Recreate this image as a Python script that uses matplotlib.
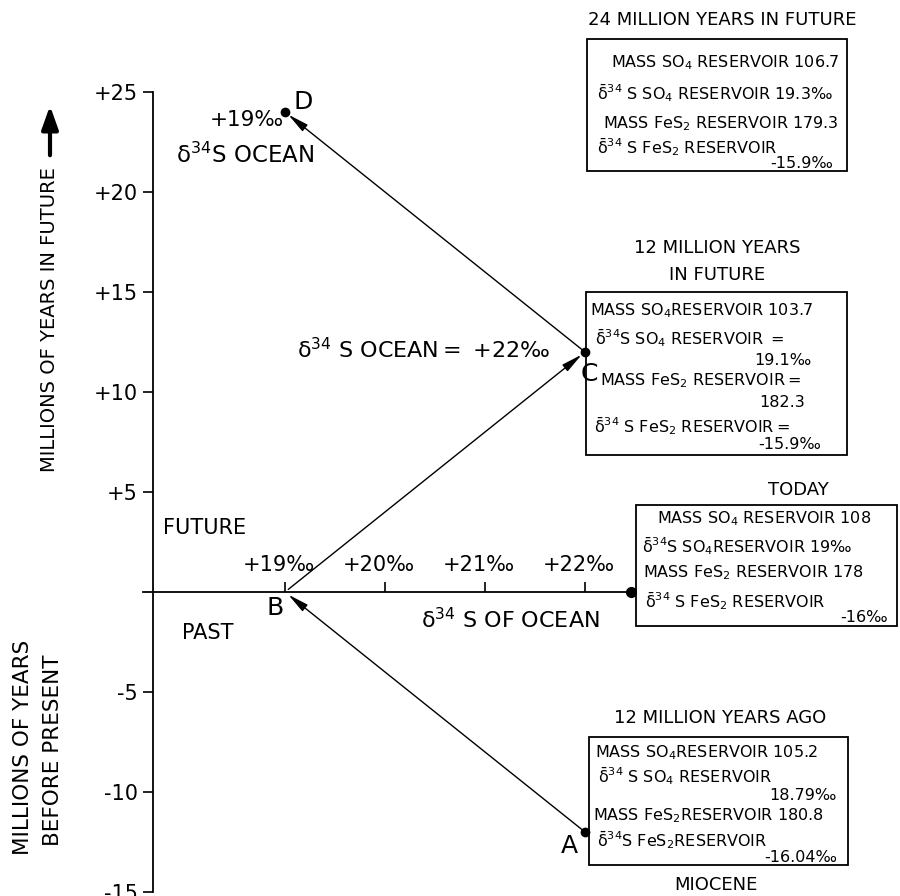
import matplotlib.pyplot as plt
from matplotlib.patches import Rectangle
from matplotlib.transforms import ScaledTranslation

# --- data ---
point_names = ['A', 'B', 'C', 'D']
ages = [-12, 0, 12, 24]              # million years (negative = past)
ocean_d34s = [22, 19, 22, 19]        # d34S of ocean, permil
mass_so4 = [105.2, 108, 103.7, 106.7]
d34s_so4 = [18.79, 19, 19.1, 19.3]
mass_fes2 = [180.8, 178, 182.3, 179.3]
d34s_fes2 = [-16.04, -16, -15.9, -15.9]

x_ticks = [19, 20, 21, 22]
y_ticks = [-15, -10, -5, 5, 10, 15, 20, 25]

W, H = 900, 896
D34 = r'$\mathrm{\delta}^{34}$'
DB = r'$\bar{\mathrm{\delta}}^{34}$'
BOX_FS = 11.5
TITLE_FS = 13


def px(x, y):
    # pixel position -> axes fraction
    return (x / W, 1 - y / H)


def txt(x, y, s, size=BOX_FS, ha='left', va='center', **kw):
    ax.text(*px(x, y), s, transform=ax.transAxes, fontsize=size,
            ha=ha, va=va, **kw)


def fmt(v):
    return f'{v:g}'


def box(x0, y0, x1, y1):
    ax.add_patch(Rectangle(px(x0, y1), (x1 - x0) / W, (y1 - y0) / H,
                           transform=ax.transAxes, fill=False, lw=1.3, ec='k'))


fig = plt.figure(figsize=(W / 100, H / 100), dpi=100)
ax = fig.add_axes([0, 0, 1, 1])
ax.set_xlim(16.15, 25.15)
ax.set_ylim(-15.2, 29.6)

# axes drawn as crossing lines
ax.spines['right'].set_visible(False)
ax.spines['bottom'].set_visible(False)
ax.spines['left'].set_position(('data', 17.68))
ax.spines['left'].set_bounds(-15, 25)
ax.spines['top'].set_position(('data', 0))
ax.spines['top'].set_bounds(17.58, 22.46)
for s in ('left', 'top'):
    ax.spines[s].set_linewidth(1.3)
ax.xaxis.set_ticks_position('top')
ax.yaxis.set_ticks_position('left')

ax.set_xticks(x_ticks)
ax.set_xticklabels([f'+{v}‰' for v in x_ticks])
ax.set_yticks(y_ticks)
ax.set_yticklabels([f'+{v}' if v > 0 else f'-{-v}' for v in y_ticks])
ax.tick_params(axis='x', direction='out', length=7, width=1.2, pad=5, labelsize=15)
ax.tick_params(axis='y', direction='out', length=7, width=1.2, pad=4, labelsize=15)
shift = ScaledTranslation(-6 / 100, 0, fig.dpi_scale_trans)
for lbl in ax.get_xticklabels():
    lbl.set_transform(lbl.get_transform() + shift)

# dot at the end of the ocean axis (today)
ax.plot(22.46, 0, 'o', color='k', ms=7, clip_on=False)

# trajectory points and arrows
for i in (0, 2, 3):
    ax.plot(ocean_d34s[i], ages[i], 'o', color='k', ms=6)
for i in range(len(ages) - 1):
    ax.annotate('', xy=(ocean_d34s[i + 1], ages[i + 1]),
                xytext=(ocean_d34s[i], ages[i]),
                arrowprops=dict(arrowstyle='-|>,head_length=0.9,head_width=0.18',
                                color='k', lw=1, shrinkA=3, shrinkB=3,
                                mutation_scale=14))

# letter offsets in image pixels (down = positive)
letter_off = {'A': (-16, 14), 'B': (-10, 16), 'C': (4, 22), 'D': (18, -10)}
for i, name in enumerate(point_names):
    dx, dy = letter_off[name]
    ax.annotate(name, (ocean_d34s[i], ages[i]), xytext=(dx, -dy),
                textcoords='offset pixels', fontsize=18, ha='center', va='center')

# axis titles
txt(50, 167, 'MILLIONS OF YEARS IN FUTURE', size=14, ha='center', va='top',
    rotation=90)
ax.annotate('', xy=px(50, 103), xytext=px(50, 158), xycoords='axes fraction',
            arrowprops=dict(arrowstyle='-|>,head_length=0.7,head_width=0.25',
                            color='k', lw=3, mutation_scale=20))
txt(23, 747, 'MILLIONS OF YEARS', size=15.5, ha='center', rotation=90)
txt(53, 750, 'BEFORE PRESENT', size=15.5, ha='center', rotation=90)

txt(205, 528, 'FUTURE', size=15, ha='center')
txt(208, 633, 'PAST', size=15, ha='center')
txt(510, 620, D34 + ' S OF OCEAN', size=16, ha='center')
txt(550, 350, D34 + ' S OCEAN$=$ +' + f'{fmt(ocean_d34s[2])}‰', size=16, ha='right')
txt(247, 120, f'+{fmt(ocean_d34s[3])}‰', size=15.5, ha='center')
txt(245, 155, D34 + 'S OCEAN', size=16.5, ha='center')

# 24 million years in future (D)
i = 3
txt(722, 20, '24 MILLION YEARS IN FUTURE', size=TITLE_FS, ha='center')
box(587, 39, 847, 171)
txt(839, 63, f'MASS SO$_4$ RESERVOIR {fmt(mass_so4[i])}', ha='right')
txt(597, 93, DB + f' S SO$_4$ RESERVOIR {fmt(d34s_so4[i])}‰')
txt(839, 124, f'MASS FeS$_2$ RESERVOIR {fmt(mass_fes2[i])}', ha='right')
txt(597, 147, DB + ' S FeS$_2$ RESERVOIR')
txt(833, 163, f'{fmt(d34s_fes2[i])}‰', ha='right')

# 12 million years in future (C)
i = 2
txt(717, 248, '12 MILLION YEARS', size=TITLE_FS, ha='center')
txt(717, 275, 'IN FUTURE', size=TITLE_FS, ha='center')
box(586, 292, 847, 455)
txt(590, 311, f'MASS SO$_4$RESERVOIR {fmt(mass_so4[i])}')
txt(595, 338, DB + 'S SO$_4$ RESERVOIR $=$')
txt(783, 360, f'{fmt(d34s_so4[i])}‰', ha='center')
txt(600, 381, 'MASS FeS$_2$ RESERVOIR$=$')
txt(782, 402, fmt(mass_fes2[i]), ha='center')
txt(594, 426, DB + ' S FeS$_2$ RESERVOIR$=$')
txt(790, 444, f'{fmt(d34s_fes2[i])}‰', ha='center')

# today (B)
i = 1
txt(798, 490, 'TODAY', size=TITLE_FS, ha='center')
box(636, 505, 897, 626)
txt(657, 519, f'MASS SO$_4$ RESERVOIR {fmt(mass_so4[i])}')
txt(642, 546, DB + f'S SO$_4$RESERVOIR {fmt(d34s_so4[i])}‰')
txt(643, 573, f'MASS FeS$_2$ RESERVOIR {fmt(mass_fes2[i])}')
txt(645, 601, DB + ' S FeS$_2$ RESERVOIR')
txt(888, 617, f'{fmt(d34s_fes2[i])}‰', ha='right')

# 12 million years ago (A)
i = 0
txt(720, 718, '12 MILLION YEARS AGO', size=TITLE_FS, ha='center')
box(589, 737, 848, 865)
txt(595, 753, f'MASS SO$_4$RESERVOIR {fmt(mass_so4[i])}')
txt(598, 776, DB + ' S SO$_4$ RESERVOIR')
txt(837, 796, f'{fmt(d34s_so4[i])}‰', ha='right')
txt(593, 816, f'MASS FeS$_2$RESERVOIR {fmt(mass_fes2[i])}')
txt(597, 840, DB + 'S FeS$_2$RESERVOIR')
txt(837, 857, f'{fmt(d34s_fes2[i])}‰', ha='right')
txt(716, 885, 'MIOCENE', size=TITLE_FS, ha='center')

fig.savefig('out.png', dpi=100)
